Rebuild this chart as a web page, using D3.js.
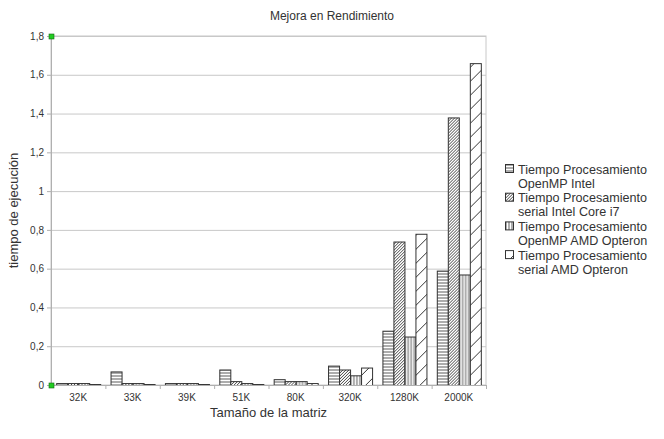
<!DOCTYPE html>
<html>
<head>
<meta charset="utf-8">
<script src="https://cdn.jsdelivr.net/npm/d3@7"></script>
<style>
  body { margin: 0; background: #fff; }
  text { font-family: "Liberation Sans", Arial, sans-serif; fill: #333; }
</style>
</head>
<body>
<div id="chart"></div>
<script>
// data
const categories = ["32K", "33K", "39K", "51K", "80K", "320K", "1280K", "2000K"];
const seriesNames = [
  ["Tiempo Procesamiento", "OpenMP Intel"],
  ["Tiempo Procesamiento", "serial Intel Core i7"],
  ["Tiempo Procesamiento", "OpenMP AMD Opteron"],
  ["Tiempo Procesamiento", "serial AMD Opteron"]
];
const openmpIntel = [0.01, 0.07, 0.01, 0.08, 0.03, 0.10, 0.28, 0.59];
const serialIntel = [0.01, 0.01, 0.01, 0.02, 0.02, 0.08, 0.74, 1.38];
const openmpAmd   = [0.01, 0.01, 0.01, 0.01, 0.02, 0.05, 0.25, 0.57];
const serialAmd   = [0.005, 0.005, 0.005, 0.005, 0.01, 0.09, 0.78, 1.66];
const yTicks = [0, 0.2, 0.4, 0.6, 0.8, 1, 1.2, 1.4, 1.6, 1.8];

const allSeries = [openmpIntel, serialIntel, openmpAmd, serialAmd];
const patternIds = ["p-horiz", "p-dense", "p-vert", "p-sparse"];

const width = 664, height = 439;
const margin = { top: 36, right: 178, bottom: 54, left: 51 };
const plotW = width - margin.left - margin.right;
const plotH = height - margin.top - margin.bottom;

const svg = d3.select("#chart").append("svg")
  .attr("width", width)
  .attr("height", height);

// hatch patterns
const defs = svg.append("defs");
function pattern(id, w, h, draw) {
  const p = defs.append("pattern")
    .attr("id", id)
    .attr("patternUnits", "userSpaceOnUse")
    .attr("width", w)
    .attr("height", h);
  p.append("rect").attr("width", w).attr("height", h).attr("fill", "#fff");
  draw(p);
}
pattern("p-horiz", 4, 3, p => p.append("line")
  .attr("x1", 0).attr("x2", 4).attr("y1", 1).attr("y2", 1)
  .attr("stroke", "#777").attr("stroke-width", 1.2));
pattern("p-vert", 3, 4, p => p.append("line")
  .attr("x1", 1).attr("x2", 1).attr("y1", 0).attr("y2", 4)
  .attr("stroke", "#777").attr("stroke-width", 1.2));
pattern("p-dense", 3, 3, p => p.append("path")
  .attr("d", "M-1,1 L1,-1 M0,3 L3,0 M2,4 L4,2")
  .attr("stroke", "#444").attr("stroke-width", 1));
pattern("p-sparse", 14, 14, p => p.append("path")
  .attr("d", "M-1,15 L15,-1")
  .attr("stroke", "#333").attr("stroke-width", 1));

const g = svg.append("g").attr("transform", `translate(${margin.left},${margin.top})`);

const x0 = d3.scaleBand().domain(categories).range([0, plotW]).padding(0);
const x1 = d3.scaleBand().domain(d3.range(4)).range([0, x0.bandwidth()])
  .paddingInner(0).paddingOuter(0.47);
const y = d3.scaleLinear().domain([0, 1.8]).range([plotH, 0]);

// frame + grid
g.append("rect")
  .attr("width", plotW).attr("height", plotH)
  .attr("fill", "none").attr("stroke", "#c8c8c8");
g.selectAll(".grid").data(yTicks.slice(1)).join("line")
  .attr("x1", 0).attr("x2", plotW)
  .attr("y1", d => y(d) + 0.5).attr("y2", d => y(d) + 0.5)
  .attr("stroke", "#c8c8c8");

// y axis
const yAxis = g.append("g")
  .call(d3.axisLeft(y).tickValues(yTicks).tickSize(4)
    .tickFormat(d => String(d).replace(".", ",")));
yAxis.select(".domain").attr("stroke", "#b0b0b0");
yAxis.selectAll(".tick line").attr("stroke", "#b0b0b0");
yAxis.selectAll("text").style("font-size", "10px").attr("fill", "#333");

// bars
const groups = g.selectAll(".grp").data(categories).join("g")
  .attr("transform", d => `translate(${x0(d)},0)`);
groups.selectAll("rect")
  .data((d, i) => allSeries.map((s, k) => ({ k, v: s[i] })))
  .join("rect")
  .attr("x", d => x1(d.k) + 0.5)
  .attr("y", d => y(d.v) + 0.5)
  .attr("width", x1.bandwidth())
  .attr("height", d => Math.max(0, plotH - y(d.v)))
  .attr("fill", d => `url(#${patternIds[d.k]})`)
  .attr("stroke", "#333")
  .attr("stroke-width", 1);

// x axis
const xg = g.append("g").attr("transform", `translate(0,${plotH})`);
xg.append("line").attr("x1", 0).attr("x2", plotW).attr("y1", 0.5).attr("y2", 0.5)
  .attr("stroke", "#b0b0b0");
xg.selectAll(".xt").data(categories.slice(1).concat(["end"])).join("line")
  .attr("x1", (d, i) => (i + 1) * x0.step() + 0.5)
  .attr("x2", (d, i) => (i + 1) * x0.step() + 0.5)
  .attr("y1", 0).attr("y2", 4)
  .attr("stroke", "#b0b0b0");
xg.selectAll(".xl").data(categories).join("text")
  .attr("x", d => x0(d) + x0.bandwidth() / 2)
  .attr("y", 16)
  .attr("text-anchor", "middle")
  .style("font-size", "10px")
  .text(d => d);

// selection handles
[0, 1.8].forEach(v => {
  g.append("rect")
    .attr("x", -2).attr("y", y(v) - 2)
    .attr("width", 5).attr("height", 5)
    .attr("fill", "#22cc22").attr("stroke", "#116611").attr("stroke-width", 0.6);
});

// titles
svg.append("text")
  .attr("x", 332).attr("y", 20)
  .attr("text-anchor", "middle")
  .style("font-size", "12px")
  .text("Mejora en Rendimiento");
svg.append("text")
  .attr("x", margin.left + plotW / 2).attr("y", 417)
  .attr("text-anchor", "middle")
  .style("font-size", "13px")
  .text("Tamaño de la matriz");
svg.append("text")
  .attr("transform", `translate(18,${margin.top + plotH / 2}) rotate(-90)`)
  .attr("text-anchor", "middle")
  .style("font-size", "13px")
  .text("tiempo de ejecución");

// legend
const legend = svg.append("g").attr("transform", "translate(505,164)");
const item = legend.selectAll("g").data(seriesNames).join("g")
  .attr("transform", (d, i) => `translate(0,${i * 28.7})`);
item.append("rect")
  .attr("x", 0.5).attr("y", 0.5).attr("width", 8).attr("height", 8)
  .attr("fill", (d, i) => `url(#${patternIds[i]})`)
  .attr("stroke", "#333");
item.append("text")
  .attr("x", 13).attr("y", 9.5)
  .style("font-size", "12.6px")
  .selectAll("tspan").data(d => d).join("tspan")
  .attr("x", 13).attr("dy", (d, i) => i === 0 ? 0 : 14)
  .text(d => d);
</script>
</body>
</html>
